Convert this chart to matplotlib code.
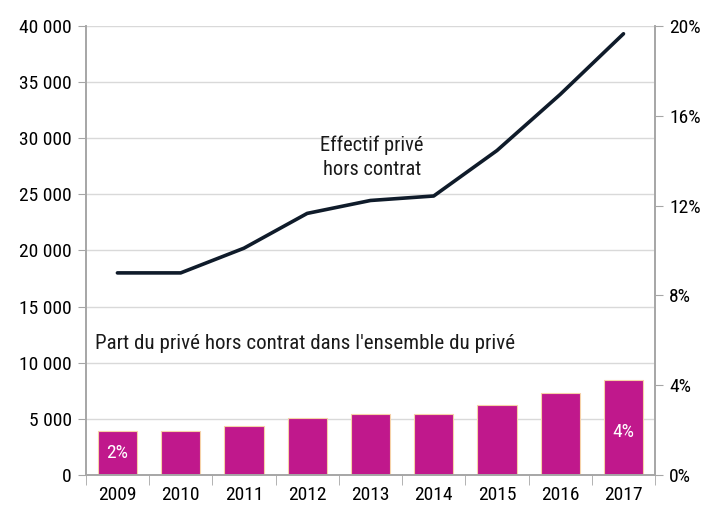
import matplotlib
matplotlib.use("Agg")
import matplotlib.pyplot as plt
import numpy as np

plt.rcParams['font.family'] = ['Roboto Condensed', 'DejaVu Sans']

years = ['2009', '2010', '2011', '2012', '2013', '2014', '2015', '2016', '2017']
effectif = [18000, 18000, 20200, 23300, 24450, 24850, 28900, 33900, 39300]
part = [1.98, 1.97, 2.2, 2.54, 2.72, 2.72, 3.13, 3.64, 4.21]

fig = plt.figure(figsize=(7.09, 5.08), dpi=100)
ax = fig.add_axes([0.121, 0.065, 0.803, 0.884])
ax2 = ax.twinx()

x = np.arange(len(years))
ax2.bar(x, part, width=0.62, color='#C0188C', edgecolor='#F6D2A8', linewidth=0.8, zorder=2)
ax2.set_ylim(0, 20)
ax2.set_yticks([0, 4, 8, 12, 16, 20])
ax2.set_yticklabels(['0%', '4%', '8%', '12%', '16%', '20%'])

ax.set_zorder(ax2.get_zorder() + 1)
ax.patch.set_visible(False)
ax2.patch.set_visible(True)
ax2.patch.set_facecolor('white')
ax.plot(x, effectif, color='#0F1B2A', lw=2.6, solid_capstyle='round', zorder=3)
ax.set_ylim(0, 40000)
ax.set_yticks(range(0, 40001, 5000))
ax.set_yticklabels(['0' if v == 0 else f'{v // 1000} 000' for v in range(0, 40001, 5000)])
ax.set_xlim(-0.5, len(years) - 0.5)

# grid drawn behind bars on the bar axis
for v in range(5000, 40001, 5000):
    ax2.axhline(v / 2000, color='#D9D9D9', lw=1, zorder=1)

ax.set_xticks(x)
ax.set_xticklabels(years)
ax.set_xticks(np.arange(-0.5, len(years)), minor=True)
ax.tick_params(axis='x', which='major', length=0, pad=8, labelsize=14)
ax.tick_params(axis='x', which='minor', length=7, color='#A6A6A6')
ax.tick_params(axis='y', length=6, color='#A6A6A6', labelsize=14, pad=4)
ax2.tick_params(axis='y', length=6, color='#A6A6A6', labelsize=14, pad=4)

for a in (ax, ax2):
    a.spines['top'].set_visible(False)
    for s in ('left', 'right', 'bottom'):
        a.spines[s].set_color('#A6A6A6')
        a.spines[s].set_linewidth(1.2)

ax2.text(x[0], 1.0, '2%', color='white', ha='center', va='center', fontsize=14)
ax2.text(x[-1], 1.9, '4%', color='white', ha='center', va='center', fontsize=14)

ax.text(4.02, 28300, 'Effectif privé\nhors contrat', ha='center', va='center',
        fontsize=14.7, color='#1A1A1A', linespacing=1.3)
ax.text(-0.36, 11700, "Part du privé hors contrat dans l'ensemble du privé",
        ha='left', va='center', fontsize=15.1, color='#1A1A1A')

fig.savefig('out.png', dpi=100)
